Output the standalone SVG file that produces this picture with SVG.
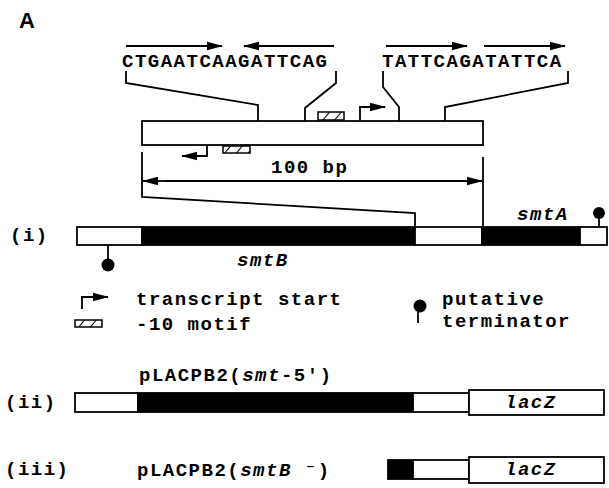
<svg xmlns="http://www.w3.org/2000/svg" width="609" height="488" viewBox="0 0 609 488">
<style>
.t{font-family:"Liberation Mono","DejaVu Sans Mono",monospace;font-weight:bold;font-size:19px;letter-spacing:1.5px;fill:#000}
.i{font-style:italic}
.ln{fill:none;stroke:#000;stroke-width:1.8}
.wb{fill:#fff;stroke:#000;stroke-width:1.8}
.bb{fill:#000;stroke:#000;stroke-width:1.8}
.hb{fill:url(#hatch);stroke:#000;stroke-width:1.5}
</style>
<defs>
<pattern id="hatch" patternUnits="userSpaceOnUse" width="9" height="9" patternTransform="rotate(40)">
<rect width="9" height="9" fill="#fff"/>
<line x1="0" y1="0" x2="0" y2="9" stroke="#000" stroke-width="2"/>
</pattern>
<marker id="ah" markerWidth="16" markerHeight="10" refX="15" refY="5" orient="auto" markerUnits="userSpaceOnUse">
<path d="M0,0.8 L16,5 L0,9.2 Z" fill="#000"/>
</marker>
</defs>

<text x="19" y="28" font-family="Liberation Sans, Arial, sans-serif" font-weight="bold" font-size="22">A</text>

<g id="sequences">
<text class="t" x="122" y="67">CTGAATCAAGATTCAG</text>
<text class="t" x="382" y="67">TATTCAGATATTCA</text>
</g>

<g id="connectors">
<line class="ln" x1="126" y1="46" x2="222" y2="46" marker-end="url(#ah)"/>
<line class="ln" x1="334" y1="46" x2="244" y2="46" marker-end="url(#ah)"/>
<line class="ln" x1="386" y1="46" x2="467" y2="46" marker-end="url(#ah)"/>
<line class="ln" x1="484" y1="46" x2="565" y2="46" marker-end="url(#ah)"/>
<polyline class="ln" points="126,71 126,83 258,105 258,121"/>
<polyline class="ln" points="336,71 336,83 305,108 305,121"/>
<polyline class="ln" points="383,71 383,87 399,107 399,121"/>
<polyline class="ln" points="568,71 568,83 445,107 445,121"/>
<polyline class="ln" points="142,152 142,197 415,213 415,227"/>
<line class="ln" x1="483" y1="157" x2="483" y2="227"/>
<line class="ln" x1="165" y1="181" x2="143" y2="181" marker-end="url(#ah)"/>
<line class="ln" x1="165" y1="181" x2="482" y2="181" marker-end="url(#ah)"/>
</g>

<g id="promoter-region">
<rect class="wb" x="142" y="121" width="341" height="24"/>
<rect class="hb" x="318" y="112" width="26" height="8"/>
<polyline class="ln" points="360,120 360,107 385,107" marker-end="url(#ah)"/>
<rect class="hb" x="223" y="146" width="27" height="7"/>
<polyline class="ln" points="207,145 207,156 182,156" marker-end="url(#ah)"/>
<text class="t" x="271" y="173">100 bp</text>
</g>

<g id="row-i">
<text class="t" x="10" y="241">(i)</text>
<rect class="wb" x="77" y="227" width="65" height="18"/>
<rect class="bb" x="142" y="227" width="273" height="18"/>
<rect class="wb" x="415" y="227" width="67" height="18"/>
<rect class="bb" x="482" y="227" width="98" height="18"/>
<rect class="wb" x="580" y="227" width="27" height="18"/>
<line class="ln" x1="108" y1="245" x2="108" y2="260"/>
<circle cx="108" cy="265" r="6.5" fill="#000"/>
<line class="ln" x1="599" y1="227" x2="599" y2="215"/>
<circle cx="599" cy="213" r="6" fill="#000"/>
<text class="t i" x="237" y="266">smtB</text>
<text class="t i" x="517" y="220">smtA</text>
</g>

<g id="legend">
<polyline class="ln" points="82,309 82,297 108,297" marker-end="url(#ah)"/>
<text class="t" x="136" y="305">transcript start</text>
<rect class="hb" x="75" y="320" width="27" height="7"/>
<text class="t" x="136" y="330">-10 motif</text>
<line class="ln" x1="418" y1="310" x2="418" y2="323"/>
<circle cx="420" cy="306" r="6.5" fill="#000"/>
<text class="t" x="442" y="305">putative</text>
<text class="t" x="442" y="327">terminator</text>
</g>

<g id="row-ii">
<text class="t" x="5" y="408">(ii)</text>
<text class="t" x="139" y="381">pLACPB2(<tspan class="i">smt</tspan>-5')</text>
<rect class="wb" x="75" y="393" width="63" height="19"/>
<rect class="bb" x="138" y="393" width="275" height="19"/>
<rect class="wb" x="413" y="393" width="56" height="19"/>
<rect class="wb" x="469" y="390" width="135" height="25"/>
<text class="t i" x="505" y="408">lacZ</text>
</g>

<g id="row-iii">
<text class="t" x="5" y="475">(iii)</text>
<text class="t" x="137" y="476">pLACPB2(<tspan class="i">smtB</tspan> ⁻)</text>
<rect class="bb" x="388" y="460" width="25" height="19"/>
<rect class="wb" x="413" y="460" width="56" height="19"/>
<rect class="wb" x="469" y="457" width="135" height="26"/>
<text class="t i" x="505" y="475">lacZ</text>
</g>
</svg>
